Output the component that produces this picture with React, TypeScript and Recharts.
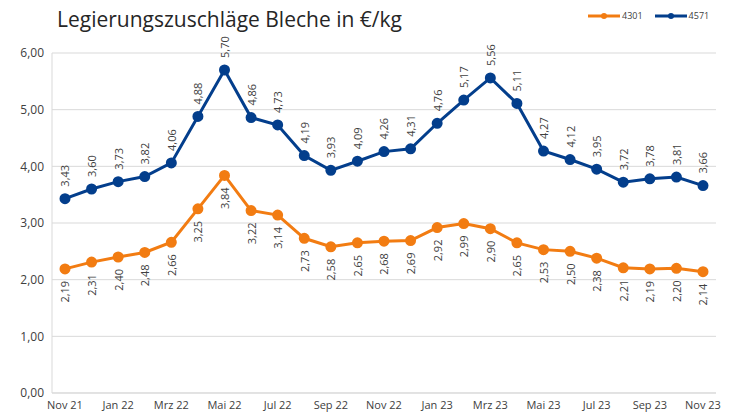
import { CartesianGrid, LabelList, Line, LineChart, XAxis, YAxis } from 'recharts';

const months = [
  'Nov 21', 'Dez 21', 'Jan 22', 'Feb 22', 'Mrz 22', 'Apr 22', 'Mai 22', 'Jun 22', 'Jul 22',
  'Aug 22', 'Sep 22', 'Okt 22', 'Nov 22', 'Dez 22', 'Jan 23', 'Feb 23', 'Mrz 23', 'Apr 23',
  'Mai 23', 'Jun 23', 'Jul 23', 'Aug 23', 'Sep 23', 'Okt 23', 'Nov 23',
];
const s4301 = [
  2.19, 2.31, 2.40, 2.48, 2.66, 3.25, 3.84, 3.22, 3.14, 2.73, 2.58, 2.65, 2.68, 2.69, 2.92,
  2.99, 2.90, 2.65, 2.53, 2.50, 2.38, 2.21, 2.19, 2.20, 2.14,
];
const s4571 = [
  3.43, 3.60, 3.73, 3.82, 4.06, 4.88, 5.70, 4.86, 4.73, 4.19, 3.93, 4.09, 4.26, 4.31, 4.76,
  5.17, 5.56, 5.11, 4.27, 4.12, 3.95, 3.72, 3.78, 3.81, 3.66,
];
const yTicks = [0, 1, 2, 3, 4, 5, 6];

const data = months.map((m, i) => ({ month: m, a: s4301[i], b: s4571[i] }));

const ORANGE = '#F27C12';
const BLUE = '#033E8C';
const FONT = '"Open Sans", sans-serif';

const fmt = (v: number) => v.toFixed(2).replace('.', ',');

function makeLabel(above: boolean) {
  return (props: any) => {
    const { x, y, value } = props;
    const yy = above ? y - 12 : y + 12;
    return (
      <text
        x={x}
        y={yy}
        transform={`rotate(-90, ${x}, ${yy})`}
        textAnchor={above ? 'start' : 'end'}
        dominantBaseline="central"
        fontSize={11}
        fontFamily={FONT}
        fill="#404040"
      >
        {fmt(value)}
      </text>
    );
  };
}

function LegendBox() {
  const item = (color: string, name: string) => (
    <span style={{ display: 'inline-flex', alignItems: 'center', marginLeft: 12 }}>
      <svg width={32} height={8}>
        <line x1={0} y1={4} x2={32} y2={4} stroke={color} strokeWidth={3} />
        <circle cx={16} cy={4} r={3} fill={color} />
      </svg>
      <span style={{ marginLeft: 2 }}>{name}</span>
    </span>
  );
  return (
    <div style={{ fontFamily: FONT, fontSize: 9, color: '#404040', display: 'flex' }}>
      {item(ORANGE, '4301')}
      {item(BLUE, '4571')}
    </div>
  );
}

export default function App() {
  return (
    <div style={{ position: 'absolute', left: 0, top: 0, width: 733, height: 417, background: '#fff' }}>
      <div
        style={{
          position: 'absolute',
          left: 57,
          top: 5,
          fontFamily: FONT,
          fontSize: 21,
          color: '#262626',
          zIndex: 2,
        }}
      >
        Legierungszuschläge Bleche in €/kg
      </div>
      <div style={{ position: 'absolute', left: 576, top: 9, zIndex: 2 }}>
        <LegendBox />
      </div>
      <LineChart width={733} height={417} data={data} margin={{ top: 53, right: 17, bottom: 0, left: 0 }}>
        <CartesianGrid vertical={false} stroke="#d9d9d9" />
        <XAxis
          dataKey="month"
          interval={1}
          tickLine={false}
          axisLine={{ stroke: '#d9d9d9' }}
          height={24}
          padding={{ left: 13, right: 13 }}
          tick={{ fontSize: 11, fontFamily: FONT, fill: '#404040' }}
        />
        <YAxis
          domain={[0, 6]}
          ticks={yTicks}
          width={52}
          tickLine={false}
          axisLine={{ stroke: '#d9d9d9' }}
          tickFormatter={fmt}
          tick={{ fontSize: 12, fontFamily: FONT, fill: '#404040' }}
        />
        <Line
          dataKey="a"
          name="4301"
          stroke={ORANGE}
          strokeWidth={3}
          dot={{ r: 4, fill: ORANGE, stroke: ORANGE }}
          isAnimationActive={false}
        >
          <LabelList dataKey="a" content={makeLabel(false)} />
        </Line>
        <Line
          dataKey="b"
          name="4571"
          stroke={BLUE}
          strokeWidth={3}
          dot={{ r: 4, fill: BLUE, stroke: BLUE }}
          isAnimationActive={false}
        >
          <LabelList dataKey="b" content={makeLabel(true)} />
        </Line>
      </LineChart>
    </div>
  );
}
